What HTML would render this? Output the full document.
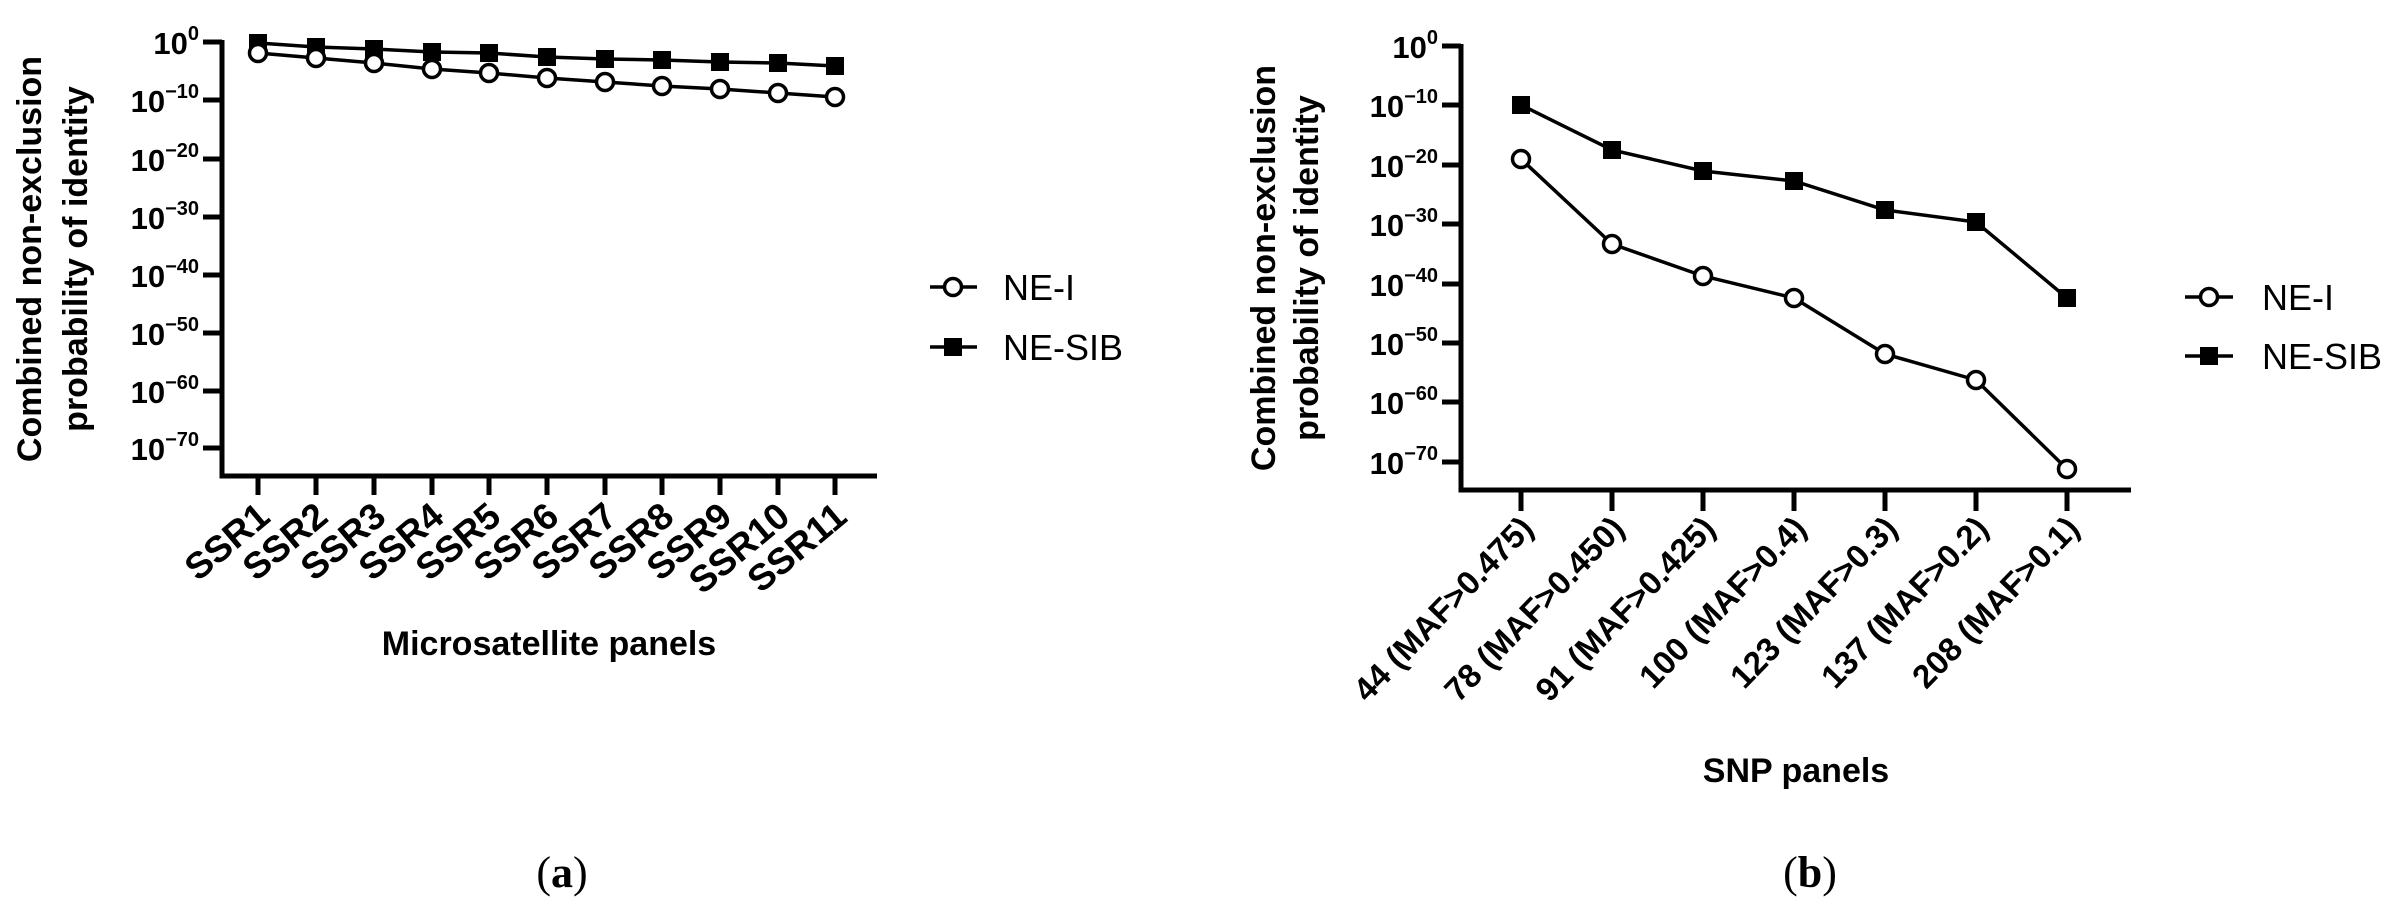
<!DOCTYPE html>
<html><head><meta charset="utf-8"><style>
html,body{margin:0;padding:0;background:#fff}
svg{display:block}
text{font-family:"Liberation Sans",Arial,sans-serif;fill:#000}
.b{font-weight:bold}
</style></head><body>
<svg width="2390" height="905" viewBox="0 0 2390 905" xmlns="http://www.w3.org/2000/svg">
<!-- Chart A -->
<g stroke="#000" stroke-width="5" fill="none">
<polyline points="222,40 222,476 877,476"/>
<path d="M203,42H222M203,100H222M203,159H222M203,217H222M203,275H222M203,333H222M203,391H222M203,448H222"/>
<path d="M258,476V495M316,476V495M374,476V495M432,476V495M489,476V495M547,476V495M605,476V495M662,476V495M720,476V495M778,476V495M835,476V495"/>
</g>
<g class="b" font-size="31" text-anchor="end">
<text x="199" y="54" class="b">10<tspan font-size="20" dy="-14">0</tspan></text>
<text x="199" y="112" class="b">10<tspan font-size="20" dy="-14">−10</tspan></text>
<text x="199" y="171" class="b">10<tspan font-size="20" dy="-14">−20</tspan></text>
<text x="199" y="229" class="b">10<tspan font-size="20" dy="-14">−30</tspan></text>
<text x="199" y="287" class="b">10<tspan font-size="20" dy="-14">−40</tspan></text>
<text x="199" y="345" class="b">10<tspan font-size="20" dy="-14">−50</tspan></text>
<text x="199" y="403" class="b">10<tspan font-size="20" dy="-14">−60</tspan></text>
<text x="199" y="460" class="b">10<tspan font-size="20" dy="-14">−70</tspan></text>
</g>
<g class="b" font-size="34" text-anchor="middle">
<text transform="translate(41,259) rotate(-90)" class="b">Combined non-exclusion</text>
<text transform="translate(87,259) rotate(-90)" class="b">probability of identity</text>
</g>
<g font-size="37" text-anchor="end" class="b">
<text class="b" transform="translate(272,520) rotate(-40)">SSR1</text>
<text class="b" transform="translate(330,520) rotate(-40)">SSR2</text>
<text class="b" transform="translate(388,520) rotate(-40)">SSR3</text>
<text class="b" transform="translate(446,520) rotate(-40)">SSR4</text>
<text class="b" transform="translate(503,520) rotate(-40)">SSR5</text>
<text class="b" transform="translate(561,520) rotate(-40)">SSR6</text>
<text class="b" transform="translate(619,520) rotate(-40)">SSR7</text>
<text class="b" transform="translate(676,520) rotate(-40)">SSR8</text>
<text class="b" transform="translate(734,520) rotate(-40)">SSR9</text>
<text class="b" transform="translate(792,520) rotate(-40)">SSR10</text>
<text class="b" transform="translate(849,520) rotate(-40)">SSR11</text>
</g>
<text x="549" y="655" font-size="34" text-anchor="middle" class="b">Microsatellite panels</text>
<g stroke="#000" stroke-width="3.5" fill="none">
<polyline points="258,43 316,47 374,49 432,52 489,53 547,57 605,59 662,60 720,62 778,63 835,66"/>
<polyline points="258,53 316,58 374,63 432,69 489,73 547,78 605,82 662,86 720,89 778,93 835,97"/>
</g>
<g fill="#000">
<rect x="249" y="34" width="18" height="18"/><rect x="307" y="38" width="18" height="18"/><rect x="365" y="40" width="18" height="18"/><rect x="423" y="43" width="18" height="18"/><rect x="480" y="44" width="18" height="18"/><rect x="538" y="48" width="18" height="18"/><rect x="596" y="50" width="18" height="18"/><rect x="653" y="51" width="18" height="18"/><rect x="711" y="53" width="18" height="18"/><rect x="769" y="54" width="18" height="18"/><rect x="826" y="57" width="18" height="18"/>
</g>
<g fill="#fff" stroke="#000" stroke-width="3.5">
<circle cx="258" cy="53" r="8.5"/><circle cx="316" cy="58" r="8.5"/><circle cx="374" cy="63" r="8.5"/><circle cx="432" cy="69" r="8.5"/><circle cx="489" cy="73" r="8.5"/><circle cx="547" cy="78" r="8.5"/><circle cx="605" cy="82" r="8.5"/><circle cx="662" cy="86" r="8.5"/><circle cx="720" cy="89" r="8.5"/><circle cx="778" cy="93" r="8.5"/><circle cx="835" cy="97" r="8.5"/>
</g>
<!-- legend a -->
<g stroke="#000" stroke-width="3.5"><path d="M930,287H977M930,347H977"/></g>
<circle cx="953" cy="287" r="8.5" fill="#fff" stroke="#000" stroke-width="3.5"/>
<rect x="944" y="338" width="18" height="18" fill="#000"/>
<text x="1003" y="300" font-size="36">NE-I</text>
<text x="1003" y="360" font-size="36">NE-SIB</text>
<text x="562" y="887" font-size="44" text-anchor="middle" style="font-family:'Liberation Serif',serif">(<tspan font-weight="bold">a</tspan>)</text>

<!-- Chart B -->
<g stroke="#000" stroke-width="5" fill="none">
<polyline points="1461,44 1461,490 2131,490"/>
<path d="M1442,46H1461M1442,105H1461M1442,165H1461M1442,224H1461M1442,284H1461M1442,343H1461M1442,402H1461M1442,462H1461"/>
<path d="M1521,490V511M1612,490V511M1703,490V511M1794,490V511M1885,490V511M1976,490V511M2067,490V511"/>
</g>
<g font-size="31" text-anchor="end">
<text x="1438" y="58" class="b">10<tspan font-size="20" dy="-14">0</tspan></text>
<text x="1438" y="117" class="b">10<tspan font-size="20" dy="-14">−10</tspan></text>
<text x="1438" y="177" class="b">10<tspan font-size="20" dy="-14">−20</tspan></text>
<text x="1438" y="236" class="b">10<tspan font-size="20" dy="-14">−30</tspan></text>
<text x="1438" y="296" class="b">10<tspan font-size="20" dy="-14">−40</tspan></text>
<text x="1438" y="355" class="b">10<tspan font-size="20" dy="-14">−50</tspan></text>
<text x="1438" y="414" class="b">10<tspan font-size="20" dy="-14">−60</tspan></text>
<text x="1438" y="474" class="b">10<tspan font-size="20" dy="-14">−70</tspan></text>
</g>
<g font-size="34" text-anchor="middle">
<text transform="translate(1275,268) rotate(-90)" class="b">Combined non-exclusion</text>
<text transform="translate(1318,268) rotate(-90)" class="b">probability of identity</text>
</g>
<g font-size="33" text-anchor="end">
<text class="b" transform="translate(1535,530) rotate(-46)">44 (MAF&gt;0.475)</text>
<text class="b" transform="translate(1626,530) rotate(-46)">78 (MAF&gt;0.450)</text>
<text class="b" transform="translate(1717,530) rotate(-46)">91 (MAF&gt;0.425)</text>
<text class="b" transform="translate(1808,530) rotate(-46)">100 (MAF&gt;0.4)</text>
<text class="b" transform="translate(1899,530) rotate(-46)">123 (MAF&gt;0.3)</text>
<text class="b" transform="translate(1990,530) rotate(-46)">137 (MAF&gt;0.2)</text>
<text class="b" transform="translate(2081,530) rotate(-46)">208 (MAF&gt;0.1)</text>
</g>
<text x="1796" y="782" font-size="34" text-anchor="middle" class="b">SNP panels</text>
<g stroke="#000" stroke-width="3.5" fill="none">
<polyline points="1521,105 1612,150 1703,171 1794,181 1885,210 1976,222 2067,298"/>
<polyline points="1521,159 1612,244 1703,276 1794,298 1885,354 1976,380 2067,469"/>
</g>
<g fill="#000">
<rect x="1512" y="96" width="18" height="18"/><rect x="1603" y="141" width="18" height="18"/><rect x="1694" y="162" width="18" height="18"/><rect x="1785" y="172" width="18" height="18"/><rect x="1876" y="201" width="18" height="18"/><rect x="1967" y="213" width="18" height="18"/><rect x="2058" y="289" width="18" height="18"/>
</g>
<g fill="#fff" stroke="#000" stroke-width="3.5">
<circle cx="1521" cy="159" r="8.5"/><circle cx="1612" cy="244" r="8.5"/><circle cx="1703" cy="276" r="8.5"/><circle cx="1794" cy="298" r="8.5"/><circle cx="1885" cy="354" r="8.5"/><circle cx="1976" cy="380" r="8.5"/><circle cx="2067" cy="469" r="8.5"/>
</g>
<g stroke="#000" stroke-width="3.5"><path d="M2185,297H2233M2185,356H2233"/></g>
<circle cx="2209" cy="297" r="8.5" fill="#fff" stroke="#000" stroke-width="3.5"/>
<rect x="2200" y="347" width="18" height="18" fill="#000"/>
<text x="2262" y="310" font-size="36">NE-I</text>
<text x="2262" y="369" font-size="36">NE-SIB</text>
<text x="1810" y="887" font-size="44" text-anchor="middle" style="font-family:'Liberation Serif',serif">(<tspan font-weight="bold">b</tspan>)</text>
</svg>
</body></html>
